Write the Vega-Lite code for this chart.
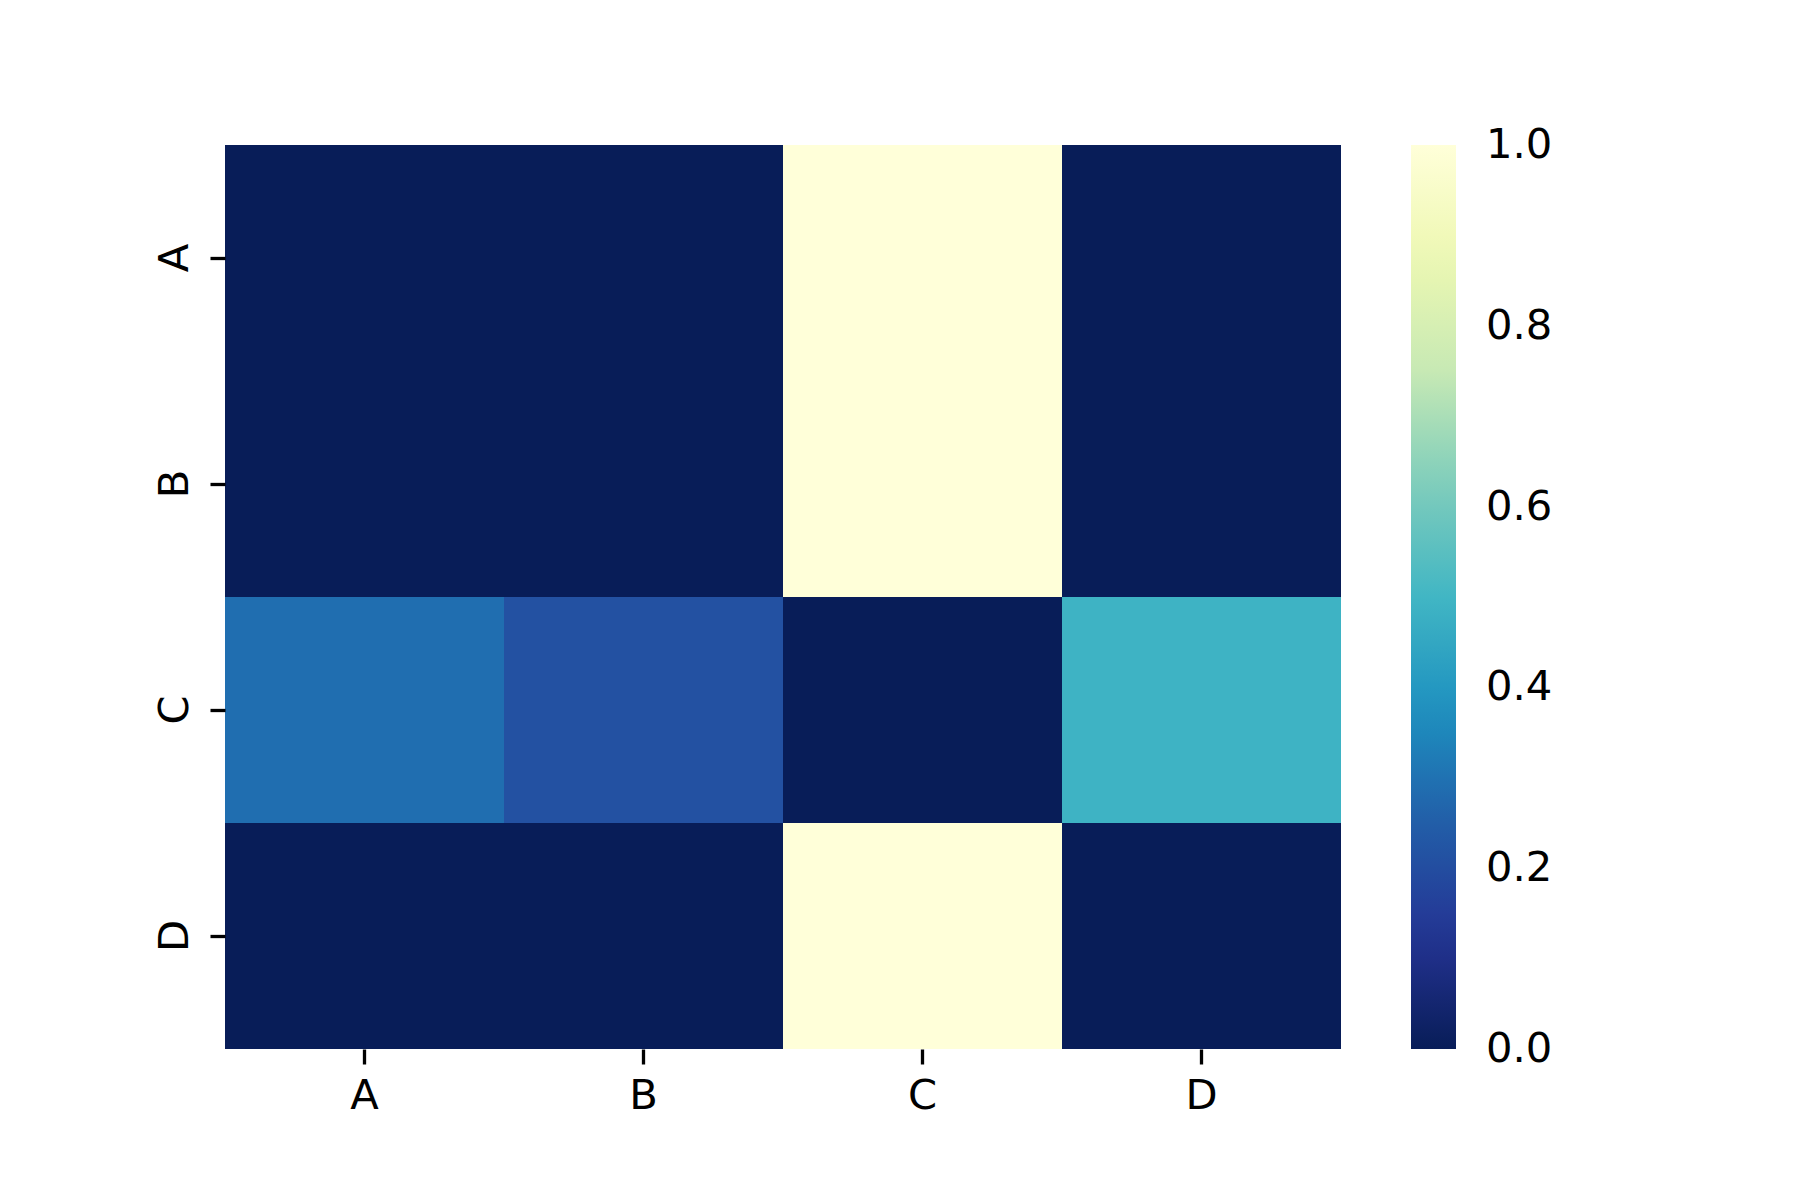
{
  "$schema": "https://vega.github.io/schema/vega-lite/v6.json",
  "autosize": {"type": "none"},
  "padding": {"left": 225, "top": 145, "right": 459, "bottom": 151},
  "width": 1116,
  "height": 904,
  "background": "white",
  "data": {
    "values": [
      {"row": "A", "col": "A", "value": 0},
      {"row": "A", "col": "B", "value": 0},
      {"row": "A", "col": "C", "value": 1},
      {"row": "A", "col": "D", "value": 0},
      {"row": "B", "col": "A", "value": 0},
      {"row": "B", "col": "B", "value": 0},
      {"row": "B", "col": "C", "value": 1},
      {"row": "B", "col": "D", "value": 0},
      {"row": "C", "col": "A", "value": 0.29},
      {"row": "C", "col": "B", "value": 0.21},
      {"row": "C", "col": "C", "value": 0},
      {"row": "C", "col": "D", "value": 0.49},
      {"row": "D", "col": "A", "value": 0},
      {"row": "D", "col": "B", "value": 0},
      {"row": "D", "col": "C", "value": 1},
      {"row": "D", "col": "D", "value": 0}
    ]
  },
  "mark": {"type": "rect", "strokeWidth": 0},
  "encoding": {
    "x": {
      "field": "col", "type": "nominal", "title": null,
      "scale": {"domain": ["A", "B", "C", "D"], "paddingInner": 0, "paddingOuter": 0},
      "axis": {"labelAngle": 0, "labelPadding": 11}
    },
    "y": {
      "field": "row", "type": "nominal", "title": null,
      "scale": {"domain": ["A", "B", "C", "D"], "paddingInner": 0, "paddingOuter": 0},
      "axis": {"labelAngle": -90, "labelPadding": 14, "labelAlign": "center", "labelBaseline": "bottom"}
    },
    "color": {
      "field": "value", "type": "quantitative",
      "scale": {
        "type": "linear",
        "domain": [0, 0.125, 0.25, 0.375, 0.5, 0.625, 0.75, 0.875, 1],
        "range": ["#081d58", "#253494", "#225ea8", "#1d91c0", "#41b6c4", "#7fcdbb", "#c7e9b4", "#edf8b1", "#ffffd9"],
        "interpolate": "rgb"
      },
      "legend": {
        "title": null,
        "orient": "right",
        "offset": 70,
        "padding": 0,
        "direction": "vertical",
        "gradientLength": 904,
        "gradientThickness": 45,
        "gradientStrokeWidth": 0,
        "values": [0, 0.2, 0.4, 0.6, 0.8, 1],
        "format": ".1f",
        "labelFont": "DejaVu Sans",
        "labelFontSize": 41.7,
        "labelColor": "black",
        "labelOffset": 30,
        "labelBaseline": "middle",
        "labelOverlap": false,
        "encode": {
          "labels": {"update": {"baseline": {"value": "middle"}}}
        }
      }
    }
  },
  "config": {
    "view": {"stroke": null},
    "axis": {
      "domain": false,
      "grid": false,
      "ticks": true,
      "tickSize": 15,
      "tickWidth": 3.3,
      "tickColor": "black",
      "labelFont": "DejaVu Sans",
      "labelFontSize": 41.7,
      "labelColor": "black"
    }
  }
}
